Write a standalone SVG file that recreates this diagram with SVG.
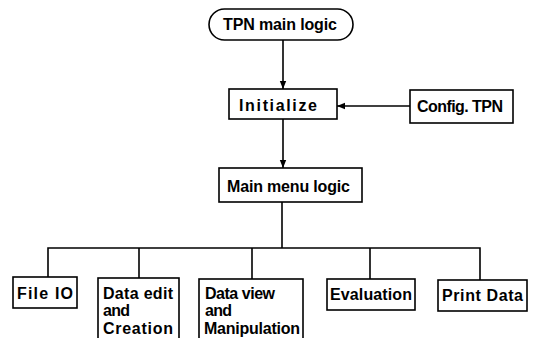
<svg xmlns="http://www.w3.org/2000/svg" width="536" height="338" viewBox="0 0 536 338">
<style>
.box{fill:#fff;stroke:#000;stroke-width:1.6}
.ln{fill:none;stroke:#000;stroke-width:1.6}
text{font-family:"Liberation Sans",Arial,sans-serif;font-weight:bold;font-size:16px;fill:#000}
</style>
<defs>
<marker id="ah" viewBox="0 0 10 10" refX="10" refY="5" markerWidth="8" markerHeight="8" markerUnits="userSpaceOnUse" orient="auto">
<path d="M0,1 L10,5 L0,9 z" fill="#000"/>
</marker>
</defs>
<rect width="536" height="338" fill="#fff"/>
<g id="connectors">
<line class="ln" x1="283" y1="40" x2="283" y2="89" marker-end="url(#ah)"/>
<line class="ln" x1="410" y1="106" x2="337" y2="106" marker-end="url(#ah)"/>
<line class="ln" x1="283" y1="119" x2="283" y2="168" marker-end="url(#ah)"/>
<line class="ln" x1="282" y1="202" x2="282" y2="248"/>
<polyline class="ln" points="48,277 48,248 480,248 480,280"/>
<line class="ln" x1="139" y1="248" x2="139" y2="278"/>
<line class="ln" x1="252" y1="248" x2="252" y2="279"/>
<line class="ln" x1="370" y1="248" x2="370" y2="279"/>
</g>
<g id="tpn-main-logic">
<rect class="box" x="209" y="9" width="144" height="31" rx="15.5"/>
<text x="223" y="30" textLength="114" lengthAdjust="spacing">TPN main logic</text>
</g>
<g id="initialize">
<rect class="box" x="229" y="89" width="108" height="30"/>
<text x="239" y="111" textLength="78" lengthAdjust="spacing">Initialize</text>
</g>
<g id="config-tpn">
<rect class="box" x="410" y="90" width="103" height="33"/>
<text x="417" y="112" textLength="86" lengthAdjust="spacing">Config. TPN</text>
</g>
<g id="main-menu-logic">
<rect class="box" x="219" y="168" width="143" height="34"/>
<text x="227" y="192" textLength="123" lengthAdjust="spacing">Main menu logic</text>
</g>
<g id="file-io">
<rect class="box" x="13" y="277" width="64" height="31"/>
<text x="17" y="299" textLength="56" lengthAdjust="spacing">File IO</text>
</g>
<g id="data-edit">
<rect class="box" x="98" y="278" width="81" height="70"/>
<text x="103" y="299" textLength="70" lengthAdjust="spacing">Data edit</text>
<text x="103" y="316" textLength="27" lengthAdjust="spacing">and</text>
<text x="103" y="334" textLength="70" lengthAdjust="spacing">Creation</text>
</g>
<g id="data-view">
<rect class="box" x="199" y="279" width="104" height="70"/>
<text x="205" y="299" textLength="70" lengthAdjust="spacing">Data view</text>
<text x="205" y="316" textLength="27" lengthAdjust="spacing">and</text>
<text x="204" y="334" textLength="96" lengthAdjust="spacing">Manipulation</text>
</g>
<g id="evaluation">
<rect class="box" x="327" y="279" width="88" height="31"/>
<text x="330" y="300" textLength="82" lengthAdjust="spacing">Evaluation</text>
</g>
<g id="print-data">
<rect class="box" x="438" y="280" width="89" height="31"/>
<text x="442" y="301" textLength="81" lengthAdjust="spacing">Print Data</text>
</g>
</svg>
